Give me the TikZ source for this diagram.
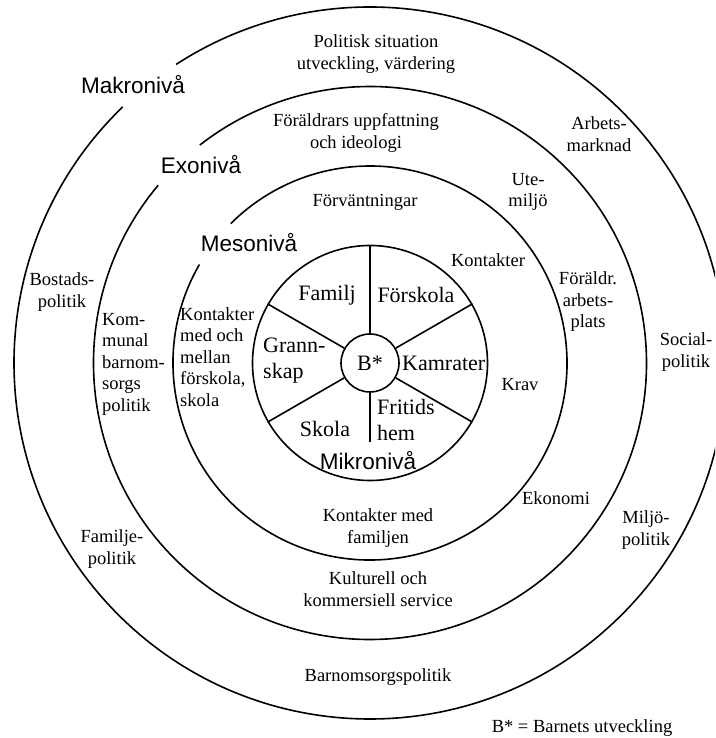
\documentclass[tikz,border=0pt]{standalone}
\usepackage{fontspec}
\setmainfont{Liberation Serif}
\newfontfamily\levelfont{Liberation Sans}
\usetikzlibrary{positioning}

\tikzset{
  ring/.style={line width=1.6pt},
  txt/.style={font=\fontsize{18.5}{21.5}\selectfont, align=center, inner sep=0pt},
  wheeltxt/.style={font=\fontsize{22}{26}\selectfont, align=left, inner sep=0pt},
  leveltxt/.style={font=\levelfont\fontsize{22.5}{26}\selectfont, inner sep=0pt}
}

\begin{document}
\begin{tikzpicture}[x=1pt,y=1pt]
  \useasboundingbox (0,0) rectangle (715,738);
  \clip (0,0) rectangle (715,738);
  \coordinate (c) at (370,375);

  % Makro-, Exo- och Mesoniv\aa{} med luckor for rubrikerna
  \draw[ring] (c) ++(134:356pt) arc[start angle=134, end angle=483, radius=356pt];
  \draw[ring] (c) ++(140:276.5pt) arc[start angle=140, end angle=488, radius=276.5pt];
  \draw[ring] (c) ++(150:197pt) arc[start angle=150, end angle=495, radius=197pt];

  % Mikroniv\aa
  \node[ring, draw, circle, minimum size=235pt, inner sep=0pt] (mikro) at (c) {};
  \node[ring, draw, circle, minimum size=58pt, inner sep=0pt, font=\fontsize{22}{26}\selectfont] (bstar) at (c) {B*};
  \coordinate (fritidsend) at (370,296);
  \draw[ring] (bstar.north) -- (mikro.north);
  \draw[ring] (bstar.south) -- (fritidsend);
  \foreach \a in {30,150,210,330}
    \draw[ring] (bstar.\a) -- (mikro.\a);

  \node[leveltxt] (makro) at (133,653) {Makroniv\aa};
  \node[leveltxt] (exo) at (201,573) {Exoniv\aa};
  \node[leveltxt] (meso) at (249,495) {Mesoniv\aa};
  \node[leveltxt] (mikrolbl) at (368,277) {Mikroniv\aa};

  \node[txt] (politisk) at (376,684) {Politisk situation\\utveckling, v\"ardering};
  \node[txt] (arbetsmarknad) at (599,604) {Arbets-\\marknad};
  \node[txt] (foraldrars) at (356,605) {F\"or\"aldrars uppfattning\\och ideologi};
  \node[txt] (utemiljo) at (528,546) {Ute-\\milj\"o};
  \node[txt] (forvantningar) at (365,536) {F\"orv\"antningar};
  \node[txt] (kontakter) at (488,478) {Kontakter};
  \node[txt] (arbetsplats) at (588,436) {F\"or\"aldr.\\arbets-\\plats};
  \node[txt] (social) at (686,386) {Social-\\politik};
  \node[txt] (bostad) at (62,446) {Bostads-\\politik};
  \node[txt, align=left, anchor=west] (kommunal) at (102,374) {Kom-\\munal\\barnom-\\sorgs\\politik};
  \node[txt, align=left, anchor=west] (kontaktermed) at (180,381) {Kontakter\\med och\\mellan\\f\"orskola,\\skola};
  \node[txt] (krav) at (520,353) {Krav};
  \node[txt] (ekonomi) at (556,240) {Ekonomi};
  \node[txt] (familjen) at (378,210) {Kontakter med\\familjen};
  \node[txt] (kulturell) at (378,149) {Kulturell och\\kommersiell service};
  \node[txt] (familjepol) at (112,189) {Familje-\\politik};
  \node[txt] (miljo) at (646,208) {Milj\"o-\\politik};
  \node[txt] (barnomsorg) at (378,61) {Barnomsorgspolitik};
  \node[txt] (forklaring) at (582,10) {B* = Barnets utveckling};

  \node[wheeltxt] (familj) at (327,443) {Familj};
  \node[wheeltxt] (forskola) at (416,443) {F\"orskola};
  \node[wheeltxt, anchor=west] (grannskap) at (263,377) {Grann-\\skap};
  \node[wheeltxt, anchor=west] (kamrater) at (402,375) {Kamrater};
  \node[wheeltxt, anchor=west] (fritids) at (377,318) {Fritids\\hem};
  \node[wheeltxt] (skola) at (325,309) {Skola};
\end{tikzpicture}
\end{document}
